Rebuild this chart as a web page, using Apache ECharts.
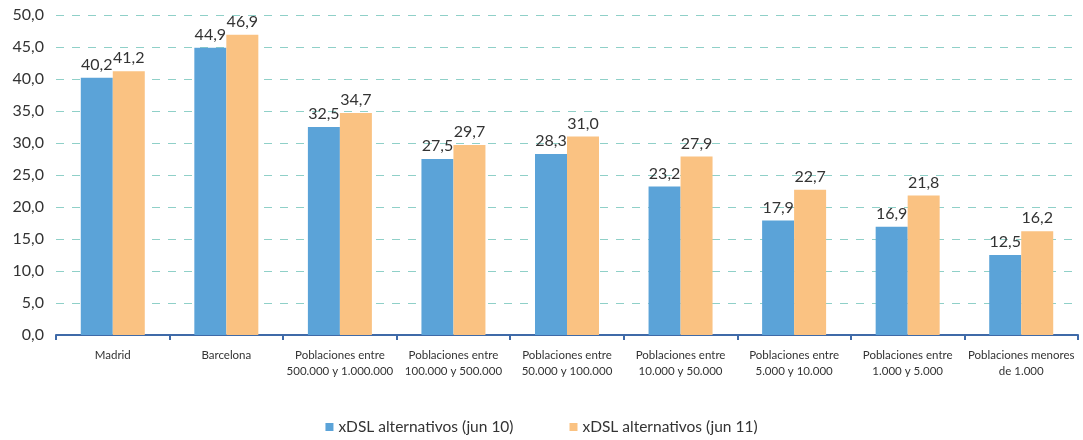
<!DOCTYPE html>
<html>
<head>
<meta charset="utf-8">
<script src="https://cdn.jsdelivr.net/npm/echarts@6/dist/echarts.min.js"></script>
<style>
  html, body { margin: 0; padding: 0; background: #fff; }
  #chart { width: 1083px; height: 440px; }
</style>
</head>
<body>
<div id="chart"></div>
<script>
// categorías (con salto de línea como en el original)
const categorias = [
  'Madrid',
  'Barcelona',
  'Poblaciones entre\n500.000 y 1.000.000',
  'Poblaciones entre\n100.000 y 500.000',
  'Poblaciones entre\n50.000 y 100.000',
  'Poblaciones entre\n10.000 y 50.000',
  'Poblaciones entre\n5.000 y 10.000',
  'Poblaciones entre\n1.000 y 5.000',
  'Poblaciones menores\nde 1.000'
];
const jun10 = [40.2, 44.9, 32.5, 27.5, 28.3, 23.2, 17.9, 16.9, 12.5];
const jun11 = [41.2, 46.9, 34.7, 29.7, 31.0, 27.9, 22.7, 21.8, 16.2];
const nombres = ['xDSL alternativos (jun 10)', 'xDSL alternativos (jun 11)'];

const fuente = 'Lato, "Liberation Sans", sans-serif';
const coma = v => v.toFixed(1).replace('.', ',');

const chart = echarts.init(document.getElementById('chart'));

const etiqueta = {
  show: true,
  position: 'top',
  distance: 5,
  color: '#333',
  fontSize: 16,
  fontFamily: fuente,
  formatter: p => coma(p.value)
};

chart.setOption({
  animation: false,
  textStyle: { fontFamily: fuente },
  grid: { left: 56, right: 5, top: 15, bottom: 105 },
  legend: {
    bottom: 0,
    left: 'center',
    itemWidth: 8,
    itemHeight: 8,
    itemGap: 56,
    icon: 'rect',
    textStyle: { fontSize: 15.5, color: '#333', fontFamily: fuente },
    data: nombres
  },
  xAxis: {
    type: 'category',
    data: categorias,
    axisLine: { lineStyle: { color: '#3f6aa8', width: 2 } },
    axisTick: { show: true, alignWithLabel: false, length: 5, lineStyle: { color: '#3f6aa8', width: 2 } },
    axisLabel: { color: '#333', fontSize: 11.5, lineHeight: 16, margin: 12, interval: 0 }
  },
  yAxis: {
    type: 'value',
    min: 0,
    max: 50,
    interval: 5,
    axisLine: { show: false },
    axisTick: { show: false },
    axisLabel: { color: '#333', fontSize: 16, margin: 12, formatter: v => coma(v) },
    splitLine: { lineStyle: { color: '#8fd0c8', type: [8, 8], width: 1 } }
  },
  series: [
    {
      name: nombres[0],
      type: 'bar',
      data: jun10,
      barWidth: 32,
      barGap: '0%',
      itemStyle: { color: '#5ba3d8' },
      label: etiqueta
    },
    {
      name: nombres[1],
      type: 'bar',
      data: jun11,
      barWidth: 32,
      itemStyle: { color: '#fac282' },
      label: etiqueta
    }
  ]
});
</script>
</body>
</html>
